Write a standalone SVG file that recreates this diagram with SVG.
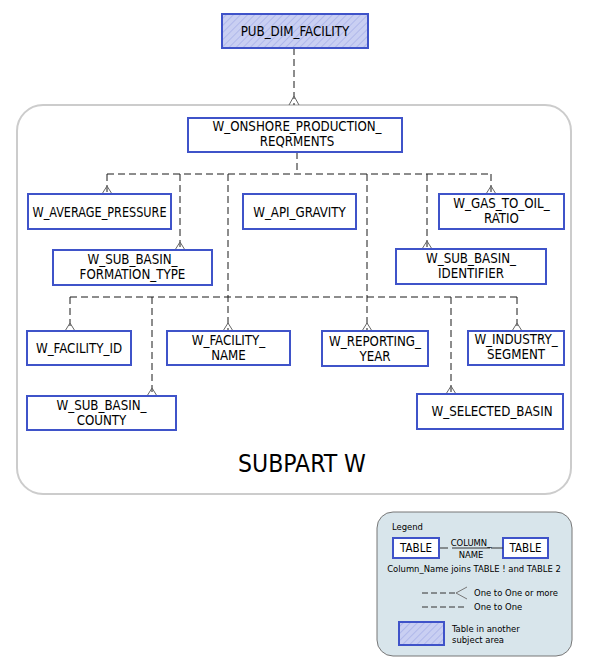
<svg xmlns="http://www.w3.org/2000/svg" width="591" height="670" viewBox="0 0 591 670">
<defs>
<pattern id="hatch" patternUnits="userSpaceOnUse" width="5" height="5" patternTransform="rotate(45)">
<rect width="5" height="5" fill="#c9cff2"/>
<line x1="0" y1="0" x2="0" y2="5" stroke="#b0b8ea" stroke-width="2"/>
</pattern>
<style>
.node{fill:#fff;stroke:#3f53c9;stroke-width:2}
.ext{fill:url(#hatch);stroke:#3f53c9;stroke-width:2}
.t{font-family:"DejaVu Sans Condensed","DejaVu Sans",sans-serif;font-size:13.2px;fill:#000;text-anchor:middle}
.c{fill:none;stroke:#1a1a1a;stroke-width:1;stroke-dasharray:7,4}
.cf{fill:none;stroke:#666;stroke-width:1}
.lt{font-family:"DejaVu Sans Condensed","DejaVu Sans",sans-serif;font-size:9.4px;fill:#000}
</style>
</defs>
<rect x="17" y="105" width="554" height="389" rx="26" fill="#fff" stroke="#cccccc" stroke-width="2"/>
<text x="302" y="472" style="font-family:'DejaVu Sans Condensed','DejaVu Sans',sans-serif;font-size:24.5px;fill:#000;text-anchor:middle">SUBPART W</text>
<g id="connectors">
<path class="c" d="M294,48V105"/>
<path class="c" d="M297,152V174M107,174H491M107,174V194M180,174V250M228,174V331M367,174V331M427,174V249M491,174V194"/>
<path class="c" d="M70,297H517M70,297V331M152,297V396M451,297V394M517,297V331"/>
<path class="cf" d="M289,105L294,96L299,105M102,194L107,186L112,194M175,250L180,242L185,250M223,331L228,323L233,331M362,331L367,323L372,331M422,249L427,241L432,249M486,194L491,186L496,194M65,331L70,323L75,331M147,396L152,388L157,396M446,394L451,386L456,394M512,331L517,323L522,331"/>
</g>
<g id="PUB_DIM_FACILITY"><rect class="ext" x="222" y="14" width="146" height="34"/><text class="t" x="295" y="35.5">PUB_DIM_FACILITY</text></g>
<g id="W_ONSHORE_PRODUCTION_REQRMENTS"><rect class="node" x="188" y="118" width="214" height="34"/><text class="t" x="297" y="131">W_ONSHORE_PRODUCTION_</text><text class="t" x="297" y="146">REQRMENTS</text></g>
<g id="W_AVERAGE_PRESSURE"><rect class="node" x="28" y="194" width="143" height="35"/><text class="t" x="99.5" y="216.5" textLength="134" lengthAdjust="spacingAndGlyphs">W_AVERAGE_PRESSURE</text></g>
<g id="W_API_GRAVITY"><rect class="node" x="243" y="194" width="113" height="35"/><text class="t" x="299.5" y="216.5">W_API_GRAVITY</text></g>
<g id="W_GAS_TO_OIL_RATIO"><rect class="node" x="439" y="194" width="125" height="35"/><text class="t" x="501.5" y="207.5">W_GAS_TO_OIL_</text><text class="t" x="501.5" y="222.5">RATIO</text></g>
<g id="W_SUB_BASIN_FORMATION_TYPE"><rect class="node" x="53" y="250" width="159" height="35"/><text class="t" x="132.5" y="264">W_SUB_BASIN_</text><text class="t" x="132.5" y="279">FORMATION_TYPE</text></g>
<g id="W_SUB_BASIN_IDENTIFIER"><rect class="node" x="396" y="249" width="150" height="35"/><text class="t" x="471" y="263">W_SUB_BASIN_</text><text class="t" x="471" y="278">IDENTIFIER</text></g>
<g id="W_FACILITY_ID"><rect class="node" x="27" y="331" width="104" height="34"/><text class="t" x="79" y="353">W_FACILITY_ID</text></g>
<g id="W_FACILITY_NAME"><rect class="node" x="167" y="331" width="123" height="34"/><text class="t" x="228.5" y="345">W_FACILITY_</text><text class="t" x="228.5" y="360">NAME</text></g>
<g id="W_REPORTING_YEAR"><rect class="node" x="322" y="331" width="106" height="35"/><text class="t" x="375" y="346">W_REPORTING_</text><text class="t" x="375" y="361">YEAR</text></g>
<g id="W_INDUSTRY_SEGMENT"><rect class="node" x="468" y="331" width="96" height="34"/><text class="t" x="516" y="344">W_INDUSTRY_</text><text class="t" x="516" y="359">SEGMENT</text></g>
<g id="W_SUB_BASIN_COUNTY"><rect class="node" x="27" y="396" width="149" height="34"/><text class="t" x="101.5" y="410">W_SUB_BASIN_</text><text class="t" x="101.5" y="425">COUNTY</text></g>
<g id="W_SELECTED_BASIN"><rect class="node" x="417" y="394" width="146" height="35"/><text class="t" x="492" y="416">W_SELECTED_BASIN</text></g>
<g id="legend">
<rect x="377" y="512" width="195" height="144" rx="16" fill="#d8e5eb" stroke="#777" stroke-width="1"/>
<text class="lt" x="392" y="530">Legend</text>
<rect x="393" y="538" width="46" height="20" fill="#fff" stroke="#3f53c9" stroke-width="2"/>
<text class="lt" x="416" y="552" text-anchor="middle" style="font-size:11.5px">TABLE</text>
<rect x="503" y="538" width="45" height="20" fill="#fff" stroke="#3f53c9" stroke-width="2"/>
<text class="lt" x="525.5" y="552" text-anchor="middle" style="font-size:11.5px">TABLE</text>
<path d="M440,548H448M491,548H503M452,548H490" stroke="#333" stroke-width="1" fill="none"/>
<text class="lt" x="471" y="546" text-anchor="middle">COLUMN_</text>
<text class="lt" x="471" y="558" text-anchor="middle">NAME</text>
<text class="lt" x="474" y="572" text-anchor="middle">Column_Name joins TABLE ! and TABLE 2</text>
<path d="M422,593H456" stroke="#333" stroke-width="1" stroke-dasharray="6,3" fill="none"/>
<path d="M467,587L456,593L467,599" stroke="#777" stroke-width="1" fill="none"/>
<text class="lt" x="474" y="596">One to One or more</text>
<path d="M422,607H467" stroke="#333" stroke-width="1" stroke-dasharray="6,3" fill="none"/>
<text class="lt" x="474" y="610">One to One</text>
<rect x="399" y="622" width="45" height="23" fill="url(#hatch)" stroke="#3f53c9" stroke-width="2"/>
<text class="lt" x="452" y="632">Table in another</text>
<text class="lt" x="452" y="643">subject area</text>
</g>
</svg>
